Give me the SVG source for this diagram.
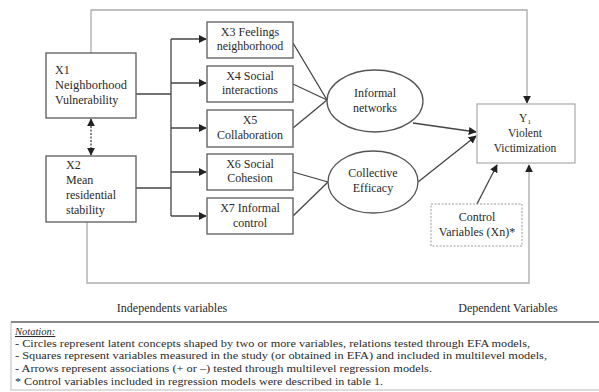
<svg xmlns="http://www.w3.org/2000/svg" width="599" height="392" viewBox="0 0 599 392" font-family="'Liberation Serif', 'Times New Roman', serif">
<defs>
<marker id="ah" viewBox="0 0 10 10" refX="9" refY="5" markerWidth="8" markerHeight="8" orient="auto-start-reverse" markerUnits="userSpaceOnUse">
<path d="M0,0 L10,5 L0,10 z" fill="#222"/>
</marker>
<style>
text{font-family:'Liberation Serif','Times New Roman',serif;fill:#2a2a2a;font-size:12px}
.c{text-anchor:middle}
.s{font-size:11.5px}
.box{fill:#fff;stroke:#666;stroke-width:1.4}
.lbox{fill:#fff;stroke:#aaa;stroke-width:1.2}
.dbox{fill:#fff;stroke:#999;stroke-width:1;stroke-dasharray:2 1.5}
.ell{fill:#fff;stroke:#555;stroke-width:1.3}
.ln{fill:none;stroke:#444;stroke-width:1.3}
.lg{fill:none;stroke:#aaa;stroke-width:1.3}
.n{font-size:10.5px}
</style>
</defs>
<rect width="599" height="392" fill="#fff"/>
<g id="connectors">
<polyline class="lg" points="91,53 91,10 527,10 527,103" marker-end="url(#ah)"/>
<polyline class="lg" points="87,222 87,283 529,283 529,165" marker-end="url(#ah)"/>
<line class="ln" x1="91" y1="119" x2="91" y2="155" stroke-dasharray="2 1.5" marker-start="url(#ah)" marker-end="url(#ah)"/>
<line class="ln" x1="136" y1="94" x2="171" y2="94"/>
<line class="ln" x1="136" y1="188" x2="171" y2="188"/>
<line class="ln" x1="171" y1="39" x2="171" y2="216"/>
<line class="ln" x1="171" y1="39" x2="206" y2="39" marker-end="url(#ah)"/>
<line class="ln" x1="171" y1="83" x2="206" y2="83" marker-end="url(#ah)"/>
<line class="ln" x1="171" y1="128" x2="206" y2="128" marker-end="url(#ah)"/>
<line class="ln" x1="171" y1="172" x2="206" y2="172" marker-end="url(#ah)"/>
<line class="ln" x1="171" y1="216" x2="206" y2="216" marker-end="url(#ah)"/>
<line class="ln" x1="293" y1="43" x2="327" y2="100"/>
<line class="ln" x1="293" y1="84" x2="327" y2="100"/>
<line class="ln" x1="293" y1="128" x2="327" y2="100"/>
<line class="ln" x1="293" y1="172" x2="328" y2="182"/>
<line class="ln" x1="293" y1="216" x2="328" y2="182"/>
<line class="ln" x1="413" y1="123" x2="476" y2="132" marker-end="url(#ah)"/>
<line class="ln" x1="418" y1="182" x2="476" y2="136" marker-end="url(#ah)"/>
<line class="ln" x1="477" y1="204" x2="497" y2="165" marker-end="url(#ah)"/>
</g>
<g id="x1">
<rect class="box" x="46" y="53" width="90" height="65"/>
<text x="55" y="74">X1</text>
<text x="55" y="89" textLength="72" lengthAdjust="spacingAndGlyphs">Neighborhood</text>
<text x="55" y="104">Vulnerability</text>
</g>
<g id="x2">
<rect class="box" x="46" y="156" width="90" height="66"/>
<text x="66" y="169">X2</text>
<text x="66" y="184">Mean</text>
<text x="66" y="199">residential</text>
<text x="66" y="214">stability</text>
</g>
<g id="x3">
<rect class="box" x="207" y="22" width="86" height="36"/>
<text class="c" x="250" y="36">X3 Feelings</text>
<text class="c" x="250" y="50">neighborhood</text>
</g>
<g id="x4">
<rect class="box" x="207" y="66" width="86" height="36"/>
<text class="c" x="250" y="80">X4 Social</text>
<text class="c" x="250" y="94">interactions</text>
</g>
<g id="x5">
<rect class="box" x="207" y="110" width="86" height="37"/>
<text class="c" x="250" y="124">X5</text>
<text class="c" x="250" y="139">Collaboration</text>
</g>
<g id="x6">
<rect class="box" x="207" y="154" width="86" height="36"/>
<text class="c" x="250" y="168">X6 Social</text>
<text class="c" x="250" y="182">Cohesion</text>
</g>
<g id="x7">
<rect class="box" x="207" y="198" width="86" height="36"/>
<text class="c" x="250" y="212">X7 Informal</text>
<text class="c" x="250" y="227">control</text>
</g>
<g id="informal-networks">
<ellipse class="ell" cx="375" cy="101" rx="48" ry="31"/>
<text class="c" x="375" y="97">Informal</text>
<text class="c" x="375" y="112">networks</text>
</g>
<g id="collective-efficacy">
<ellipse class="ell" cx="373" cy="182" rx="45" ry="31"/>
<text class="c" x="373" y="177">Collective</text>
<text class="c" x="373" y="192">Efficacy</text>
</g>
<g id="y1">
<rect class="lbox" x="477" y="104" width="98" height="59"/>
<text class="c s" x="525" y="122">Y<tspan font-size="7" dy="2">1</tspan></text>
<text class="c s" x="525" y="137">Violent</text>
<text class="c s" x="525" y="152">Victimization</text>
</g>
<g id="control">
<rect class="dbox" x="431" y="204" width="91" height="42"/>
<text class="c" x="477" y="221">Control</text>
<text class="c" x="477" y="236">Variables (Xn)*</text>
</g>
<g id="labels">
<text class="c" x="172" y="312">Independents variables</text>
<text class="c" x="508" y="312">Dependent Variables</text>
</g>
<g id="notation">
<rect x="11" y="322" width="600" height="68" fill="#fff" stroke="#bbb" stroke-width="1"/>
<line x1="11" y1="322" x2="599" y2="322" stroke="#888" stroke-width="2"/>
<text class="n" x="15" y="335" font-style="italic" text-decoration="underline">Notation:</text>
<text class="n" x="15" y="347" textLength="515" lengthAdjust="spacingAndGlyphs">- Circles represent latent concepts shaped by two or more variables, relations tested through EFA models,</text>
<text class="n" x="15" y="359" textLength="532" lengthAdjust="spacingAndGlyphs">- Squares represent variables measured in the study (or obtained in EFA) and included in multilevel models,</text>
<text class="n" x="15" y="372" textLength="417" lengthAdjust="spacingAndGlyphs">- Arrows represent associations (+ or –) tested through multilevel regression models.</text>
<text class="n" x="15" y="385" textLength="368" lengthAdjust="spacingAndGlyphs">* Control variables included in regression models were described in table 1.</text>
</g>
</svg>
